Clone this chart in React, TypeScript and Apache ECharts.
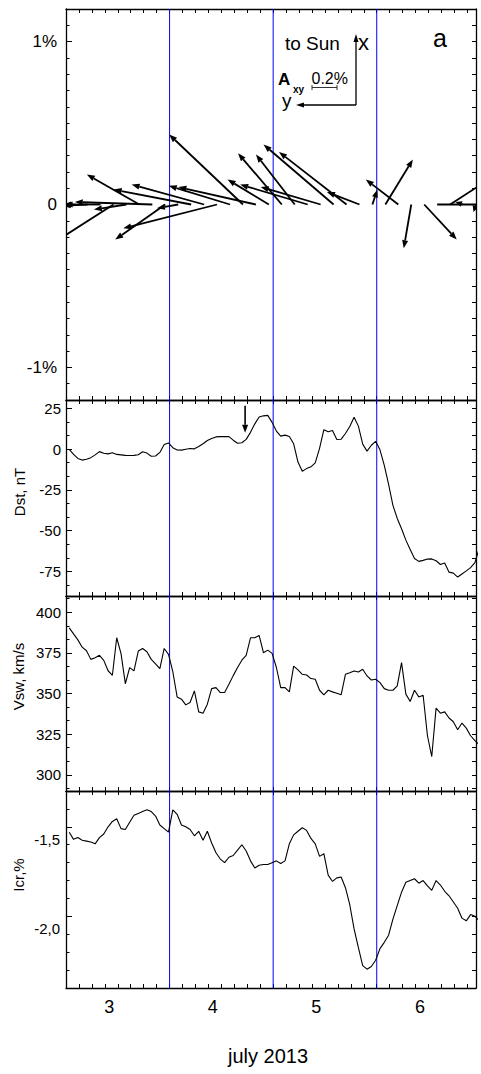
import React, { useEffect, useRef } from "react";
import * as echarts from "echarts";

// ---------- axis ranges / ticks ----------
const X_MIN = 2 + 14 / 24;
const X_MAX = 6 + 13 / 24;
const DAY_LABELS = [3, 4, 5, 6];
const BLUE_LINES = [3 + 14 / 24, 4 + 14 / 24, 5 + 14 / 24];
const X_TICKS: number[] = [];
for (let n = 1; n <= 31; n++) X_TICKS.push(X_MIN + n * 0.125);

const A_MAJOR = [-1, 0, 1];
const A_MINOR = [-1.1, -0.9, -0.8, -0.7, -0.6, -0.5, -0.4, -0.3, -0.2, -0.1, 0.1, 0.2, 0.3, 0.4, 0.5, 0.6, 0.7, 0.8, 0.9, 1.1];
const DST_MAJOR = [-75, -50, -25, 0, 25];
const DST_MINOR = [16.667, 8.333, -8.333, -16.667, -33.333, -41.667, -58.333, -66.667, -83.333];
const VSW_MAJOR = [300, 325, 350, 375, 400];
const VSW_MINOR = [408.333, 391.667, 383.333, 366.667, 358.333, 341.667, 333.333, 316.667, 308.333, 291.667];
const ICR_MAJOR = [-2.0, -1.5];
const ICR_MINOR = [-1.4, -1.6, -1.7, -1.8, -1.9, -2.1, -2.2, -2.3];

// ---------- hourly data ----------
const DATA_START = 2 + 14.75 / 24;
const dst = [
  -0.2, -3.3, -5.8, -6.8, -6.3, -5.3, -3.6, -1.6, -2.6, -3, -2.3, -3.3, -3.6, -3.9, -4, -3.9,
  -3.5, -1.7, -2.5, -4.4, -4.3, -2.1, 2.7, 3.7, 0.8, -0.6, -0.7, -0.2, 0.3, 0.1, 1.5, 3.2,
  5.2, 6.4, 7.4, 7.6, 7.6, 7.6, 5.4, 3.5, 3.8, 5.9, 10.2, 15.4, 19.6, 20.3, 20.6, 16.3,
  11, 7.9, 8.5, 7.6, 3.2, -8, -13.6, -12, -10.9, -8.5, 0.4, 11.8, 10.6, 11.3, 5.8, 6,
  9.5, 13.8, 19.5, 14, 3, -1.3, 2.3, 4.7, -0.5, -10, -21.6, -34.5, -42.5, -48.8, -55.8, -61.5,
  -67, -68.8, -68.2, -67.4, -67.3, -68.4, -70.7, -69.8, -75.4, -76, -78.4, -76.5, -74.6, -72.6, -69.6, -60.7,
];
const vsw = [
  390.4, 386.7, 383, 378.5, 376.3, 371, 372, 373.5, 370.4, 364, 361.2, 384.3, 374.5, 356, 365.9, 363.9,
  376.1, 377.7, 375.7, 371, 368.3, 365.3, 377.7, 374.1, 363.4, 347.9, 346.5, 343, 344.5, 351.6, 338.7, 337.9,
  343.4, 353, 353.6, 350.6, 350.6, 355.7, 361, 366, 370.5, 373.5, 384.3, 384.3, 385.7, 375.1, 376.7, 374.7,
  366, 353.6, 353.6, 351, 366.9, 364.5, 361.8, 361.4, 359.2, 358.8, 352, 349.2, 352, 351, 350.2, 349.2,
  361.8, 362.8, 363.9, 363.2, 364.9, 360.8, 358.3, 358.8, 356.7, 353, 352, 352, 354.7, 369, 349.6, 345.1,
  352, 347.9, 348.9, 324, 311.2, 341, 337.9, 338.7, 334.9, 332.6, 327.7, 331.8, 328.7, 324, 321, 318.5,
];
const icr = [
  -1.53, -1.57, -1.56, -1.575, -1.58, -1.585, -1.595, -1.56, -1.54, -1.5, -1.47, -1.455, -1.51, -1.515, -1.475, -1.435,
  -1.425, -1.415, -1.405, -1.415, -1.44, -1.49, -1.51, -1.53, -1.405, -1.43, -1.49, -1.5, -1.515, -1.55, -1.525, -1.575,
  -1.525, -1.59, -1.645, -1.68, -1.7, -1.67, -1.66, -1.63, -1.6, -1.635, -1.69, -1.73, -1.715, -1.71, -1.71, -1.7,
  -1.69, -1.705, -1.69, -1.595, -1.545, -1.525, -1.505, -1.52, -1.565, -1.595, -1.665, -1.65, -1.77, -1.805, -1.785, -1.78,
  -1.84, -1.935, -2.07, -2.175, -2.275, -2.295, -2.28, -2.245, -2.18, -2.145, -2.105, -2.015, -1.94, -1.865, -1.81, -1.8,
  -1.79, -1.815, -1.8, -1.83, -1.855, -1.8, -1.825, -1.86, -1.885, -1.92, -1.955, -2.01, -2.025, -1.99, -2.0, -2.025,
];

// ---------- anisotropy vectors Axy (%), every 3 hours ----------
const ARROW_START = 2 + 16 / 24;
const ARROW_STEP_H = 3;
const axSun = [0, -0.01, 0, -0.32, -0.04, 0.24, 0.02, -0.28, -0.03, 0.12, 0.16, -0.19, 0.15, 0.56, 0.14, 0.2,
  0.41, 0.4, 0.16, 0.14, 0.48, 0.42, 0.1, 0.12, 0.36, 0.2, -0.35, -0.28, 0, 0.24, 0.02, -0.06];
const aySide = [0.08, 0.2, 0.3, 0.5, 0.26, 0.42, 0.62, 0.4, 0.17, 0.62, 0.58, 0.75, 0.49, 0.59, 0.62, 0.33,
  0.35, 0.31, 0.54, 0.48, 0.56, 0.54, 0.26, -0.04, -0.22, 0.26, 0.06, -0.26, -0.4, -0.37, 0.06, 0.02];
const DAYS_PER_PCT = 1.207; // vector scale: 0.2% bar
const DST_EVENT_TIME = 4 + 7.5 / 24;
const DST_EVENT_SPAN = [26.5, 10];

const FONT = "'Liberation Sans', Arial, sans-serif";
const BLUE = "rgb(0,0,255)";
const GRIDS = [
  { top: 9, height: 391 },
  { top: 400, height: 196 },
  { top: 596, height: 195 },
  { top: 791, height: 197 },
];
const Y_CFG = [
  { min: -1.2, max: 1.2, major: A_MAJOR, minor: A_MINOR, fs: 17, margin: 9, fmt: (v: number) => (v === 0 ? "0" : v + "%") },
  { min: -90, max: 30, major: DST_MAJOR, minor: DST_MINOR, fs: 15, margin: 5, fmt: (v: number) => String(v) },
  { min: 290, max: 410, major: VSW_MAJOR, minor: VSW_MINOR, fs: 15, margin: 5, fmt: (v: number) => String(v) },
  { min: -2.4, max: -1.3, major: ICR_MAJOR, minor: ICR_MINOR, fs: 15, margin: 6, fmt: (v: number) => v.toFixed(1).replace(".", ",") },
];

function arrowEl(x1: number, y1: number, x2: number, y2: number, hl: number, hw: number, lw: number) {
  const dx = x2 - x1, dy = y2 - y1;
  const L = Math.hypot(dx, dy);
  if (L < 0.5) return { type: "group", children: [] };
  const ux = dx / L, uy = dy / L;
  const h = Math.min(hl, L * 0.8);
  const bx = x2 - ux * h, by = y2 - uy * h;
  const nx = -uy, ny = ux;
  return {
    type: "group",
    children: [
      { type: "line", shape: { x1, y1, x2: bx, y2: by }, style: { stroke: "#000", lineWidth: lw } },
      { type: "polygon", shape: { points: [[x2, y2], [bx + nx * hw, by + ny * hw], [bx - nx * hw, by - ny * hw]] }, style: { fill: "#000" } },
    ],
  };
}

function txt(text: string, x: number, y: number, fs: number, opts: any = {}) {
  return {
    type: "text",
    x,
    y,
    rotation: opts.rotation || 0,
    z: 100,
    style: {
      text,
      fontSize: fs,
      fontFamily: FONT,
      fontWeight: opts.bold ? "bold" : "normal",
      fill: "#000",
      align: opts.align || "left",
      textAlign: opts.align || "left",
      verticalAlign: "middle",
      textVerticalAlign: "middle",
    },
  };
}

function ln(x1: number, y1: number, x2: number, y2: number, lw = 1.3, color = "#000") {
  return { type: "line", z: 100, shape: { x1, y1, x2, y2 }, style: { stroke: color, lineWidth: lw } };
}
function tri(points: number[][]) {
  return { type: "polygon", z: 100, shape: { points }, style: { fill: "#000" } };
}

// vertical blue lines (one line series per time per panel, through the panel's scales)
function blueSeries(g: number, v: number) {
  const c = Y_CFG[g];
  return {
    type: "line",
    xAxisIndex: 2 * g,
    yAxisIndex: 3 * g,
    z: 1,
    silent: true,
    showSymbol: false,
    symbol: "none",
    color: BLUE,
    itemStyle: { color: BLUE },
    lineStyle: { color: BLUE, width: 1, opacity: 1 },
    emphasis: { disabled: true },
    data: [[v, c.min], [v, c.max]],
  };
}

export default function App() {
  const ref = useRef<HTMLDivElement>(null);
  useEffect(() => {
    const el = ref.current!;
    const chart = echarts.init(el, null, { renderer: "svg" });

    const xAxis: any[] = [];
    const yAxis: any[] = [];
    GRIDS.forEach((_, g) => {
      ["bottom", "top"].forEach((pos) => {
        xAxis.push({
          type: "value",
          gridIndex: g,
          position: pos,
          min: X_MIN,
          max: X_MAX,
          axisLine: { show: true, onZero: false, lineStyle: { color: "#000", width: 1.3 } },
          axisTick: { show: true, inside: true, length: 4, customValues: X_TICKS, lineStyle: { color: "#000", width: 1 } },
          axisLabel: {
            show: g === 3 && pos === "bottom",
            customValues: DAY_LABELS,
            formatter: (v: number) => String(Math.round(v)),
            fontSize: 18,
            fontFamily: FONT,
            color: "#000",
            margin: 10,
          },
          splitLine: { show: false },
          axisPointer: { show: false },
        });
      });
      const c = Y_CFG[g];
      const base = {
        type: "value",
        gridIndex: g,
        min: c.min,
        max: c.max,
        splitLine: { show: false },
      };
      yAxis.push({
        ...base,
        position: "left",
        axisLine: { show: true, onZero: false, lineStyle: { color: "#000", width: 1.3 } },
        axisTick: { show: true, inside: true, length: 6, customValues: c.major, lineStyle: { color: "#000", width: 1 } },
        axisLabel: {
          show: true,
          customValues: c.major,
          formatter: c.fmt,
          fontSize: c.fs,
          fontFamily: FONT,
          color: "#000",
          margin: c.margin,
          ...(g === 3 ? { verticalAlign: "top", padding: [5, 0, 0, 0] } : {}),
        },
      });
      yAxis.push({
        ...base,
        position: "left",
        axisLine: { show: false, onZero: false },
        axisTick: { show: true, inside: true, length: 3.5, customValues: c.minor, lineStyle: { color: "#000", width: 1 } },
        axisLabel: { show: false },
      });
      yAxis.push({
        ...base,
        position: "right",
        axisLine: { show: true, onZero: false, lineStyle: { color: "#000", width: 1.3 } },
        axisTick: { show: true, inside: true, length: 4, customValues: [...c.major, ...c.minor], lineStyle: { color: "#000", width: 1 } },
        axisLabel: { show: false },
      });
    });

    const toSeries = (vals: number[]) => vals.map((v, i) => [DATA_START + i / 24, v]);
    const arrowData = axSun.map((ax, k) => [ARROW_START + (k * ARROW_STEP_H) / 24, ax, aySide[k]]);

    const lineSeries = (g: number, vals: number[]) => ({
      type: "line",
      xAxisIndex: 2 * g,
      yAxisIndex: 3 * g,
      z: 3,
      data: toSeries(vals),
      showSymbol: false,
      symbol: "none",
      color: "#000",
      lineStyle: { color: "#000", width: 1.1 },
    });

    const series: any[] = [];
    GRIDS.forEach((_, g) => BLUE_LINES.forEach((v) => series.push(blueSeries(g, v))));
    series.push(
      {
        type: "custom",
        xAxisIndex: 0,
        yAxisIndex: 0,
        clip: true,
        z: 3,
        data: arrowData,
        encode: { x: 0, y: 1 },
        renderItem: (params: any, api: any) => {
          const t = api.value(0), ax = api.value(1), ay = api.value(2);
          const tail = api.coord([t, 0]);
          const S = api.size([1, 0])[0] * DAYS_PER_PCT;
          return arrowEl(tail[0], tail[1], tail[0] - ay * S, tail[1] - ax * S, 8, 3, 1.8);
        },
      },
      lineSeries(1, dst),
      {
        type: "custom",
        xAxisIndex: 2,
        yAxisIndex: 3,
        z: 3,
        data: [[DST_EVENT_TIME, DST_EVENT_SPAN[0], DST_EVENT_SPAN[1]]],
        encode: { x: 0, y: 1 },
        renderItem: (params: any, api: any) => {
          const p1 = api.coord([api.value(0), api.value(1)]);
          const p2 = api.coord([api.value(0), api.value(2)]);
          return arrowEl(p1[0], p1[1], p2[0], p2[1], 8, 3, 1.6);
        },
      },
      lineSeries(2, vsw),
      lineSeries(3, icr)
    );

    const graphic: any[] = [
      txt("to Sun", 285, 43.5, 19),
      txt("x", 358, 42, 22),
      ln(356, 105, 356, 41),
      tri([[356, 34], [353.5, 42], [358.5, 42]]),
      ln(356, 105, 303, 105),
      tri([[296, 105], [304, 102.5], [304, 107.5]]),
      txt("y", 282, 100, 19),
      txt("A", 278, 79, 17, { bold: true }),
      txt("xy", 293, 89, 10, { bold: true }),
      txt("0.2%", 311.5, 78.5, 16),
      ln(312, 87.5, 337, 87.5, 1, "#333"),
      ln(312, 85, 312, 90, 1, "#333"),
      ln(337, 85, 337, 90, 1, "#333"),
      txt("a", 433, 38, 25),
      txt("july 2013", 268, 1056, 20, { align: "center" }),
      txt("Dst, nT", 19, 492, 15, { align: "center", rotation: Math.PI / 2 }),
      txt("Vsw, km/s", 18.5, 676.5, 15, { align: "center", rotation: Math.PI / 2 }),
      txt("Icr,%", 18.5, 875, 15, { align: "center", rotation: Math.PI / 2 }),
    ];

    chart.setOption({
      animation: false,
      backgroundColor: "#fff",
      textStyle: { fontFamily: FONT },
      grid: GRIDS.map((g) => ({ left: 66, width: 410, top: g.top, height: g.height, containLabel: false })),
      xAxis,
      yAxis,
      series,
      graphic,
    });
    return () => chart.dispose();
  }, []);
  return (
    <div
      ref={ref}
      style={{ position: "absolute", left: 0, top: 0, width: 481, height: 1074, background: "#fff" }}
    />
  );
}
